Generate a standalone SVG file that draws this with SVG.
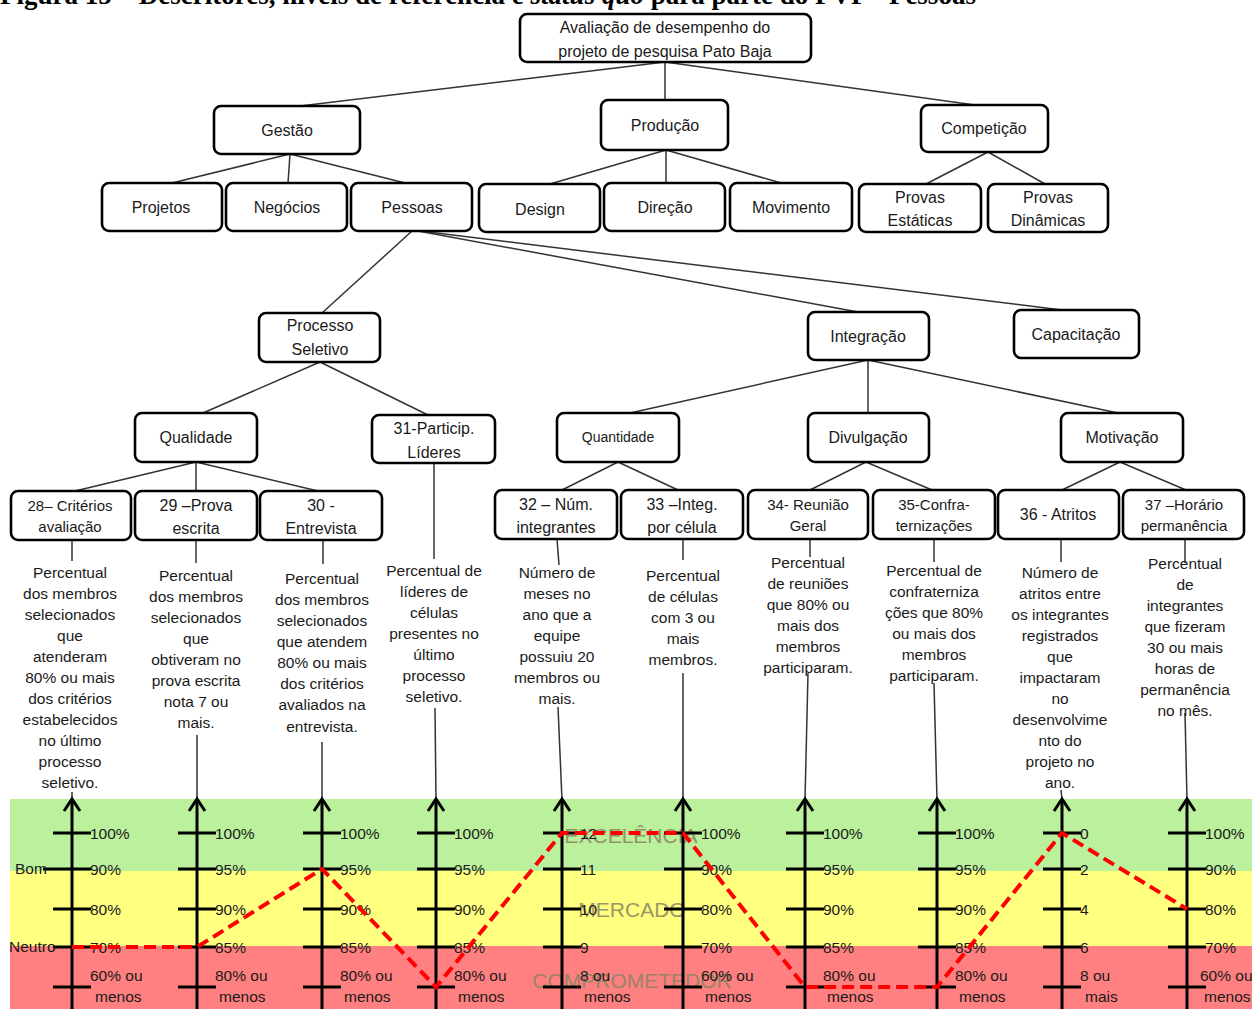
<svg xmlns="http://www.w3.org/2000/svg" width="1252" height="1009" viewBox="0 0 1252 1009">
<style>
.box{fill:#fff;stroke:#000;stroke-width:2.6}
.bt{font-family:"Liberation Sans",Arial,sans-serif;font-size:16px;text-anchor:middle;dominant-baseline:central;fill:#1a1a1a}
.dt{font-family:"Liberation Sans",Arial,sans-serif;font-size:15.5px;text-anchor:middle;dominant-baseline:central;fill:#1a1a1a}
.sl{font-family:"Liberation Sans",Arial,sans-serif;font-size:15.5px;dominant-baseline:central;fill:#1a1a1a}
.bl{font-family:"Liberation Sans",Arial,sans-serif;font-size:21px;text-anchor:middle;dominant-baseline:central;fill:#8a8462;opacity:0.85}
.con{stroke:#333;stroke-width:1.5;fill:none}
.axis{stroke:#000;stroke-width:3;fill:none;marker-end:url(#ah)}
.tick{stroke:#000;stroke-width:3}
.sq{stroke:#f00;stroke-width:4;stroke-dasharray:12 6;fill:none}
</style>
<defs>
<marker id="ah" markerUnits="userSpaceOnUse" markerWidth="20" markerHeight="20" refX="12" refY="10" orient="auto" overflow="visible">
<path d="M0 2 L12 10 L0 18" fill="none" stroke="#000" stroke-width="3"/>
</marker>
</defs>
<rect width="1252" height="1009" fill="#fff"/>
<text x="0" y="4" font-family="'Liberation Serif','Times New Roman',serif" font-weight="bold" font-size="27" fill="#000">Figura 15 – Descritores, níveis de referência e <tspan font-style="italic">status quo</tspan> para parte do PVF - Pessoas</text>

<g id="connectors">
<line class="con" x1="665" y1="62" x2="300" y2="106"/>
<line class="con" x1="665" y1="62" x2="665" y2="100"/>
<line class="con" x1="665" y1="62" x2="975" y2="105"/>
<line class="con" x1="290" y1="154" x2="172" y2="183"/>
<line class="con" x1="290" y1="154" x2="288" y2="183"/>
<line class="con" x1="290" y1="154" x2="405" y2="183"/>
<line class="con" x1="666" y1="150" x2="550" y2="184"/>
<line class="con" x1="666" y1="150" x2="666" y2="183"/>
<line class="con" x1="666" y1="150" x2="781" y2="183"/>
<line class="con" x1="988" y1="152" x2="926" y2="184"/>
<line class="con" x1="988" y1="152" x2="1045" y2="184"/>
<line class="con" x1="412" y1="231" x2="322" y2="313"/>
<line class="con" x1="418" y1="231" x2="858" y2="312"/>
<line class="con" x1="420" y1="231" x2="1062" y2="310"/>
<line class="con" x1="320" y1="362" x2="203" y2="413"/>
<line class="con" x1="320" y1="362" x2="428" y2="415"/>
<line class="con" x1="868" y1="360" x2="630" y2="413"/>
<line class="con" x1="868" y1="360" x2="868" y2="413"/>
<line class="con" x1="868" y1="360" x2="1118" y2="413"/>
<line class="con" x1="196" y1="462" x2="75" y2="491"/>
<line class="con" x1="196" y1="462" x2="196" y2="491"/>
<line class="con" x1="196" y1="462" x2="318" y2="491"/>
<line class="con" x1="618" y1="462" x2="562" y2="490"/>
<line class="con" x1="618" y1="462" x2="678" y2="490"/>
<line class="con" x1="866" y1="462" x2="810" y2="490"/>
<line class="con" x1="866" y1="462" x2="932" y2="490"/>
<line class="con" x1="1120" y1="462" x2="1062" y2="490"/>
<line class="con" x1="1120" y1="462" x2="1186" y2="490"/>
<line class="con" x1="72" y1="540" x2="72" y2="561"/>
<line class="con" x1="72" y1="792" x2="72" y2="800"/>
<line class="con" x1="196" y1="540" x2="196" y2="563"/>
<line class="con" x1="197" y1="735" x2="197" y2="800"/>
<line class="con" x1="323" y1="540" x2="323" y2="564"/>
<line class="con" x1="322" y1="742" x2="322" y2="800"/>
<line class="con" x1="434" y1="463" x2="434" y2="559"/>
<line class="con" x1="435" y1="708" x2="436" y2="800"/>
<line class="con" x1="557" y1="539" x2="559" y2="565"/>
<line class="con" x1="558" y1="707" x2="562" y2="800"/>
<line class="con" x1="683" y1="539" x2="683" y2="560"/>
<line class="con" x1="683" y1="673" x2="683" y2="800"/>
<line class="con" x1="810" y1="539" x2="810" y2="557"/>
<line class="con" x1="808" y1="673" x2="805" y2="800"/>
<line class="con" x1="934" y1="539" x2="934" y2="562"/>
<line class="con" x1="934" y1="683" x2="937" y2="800"/>
<line class="con" x1="1061" y1="539" x2="1061" y2="562"/>
<line class="con" x1="1061" y1="790" x2="1062" y2="800"/>
<line class="con" x1="1185" y1="539" x2="1185" y2="563"/>
<line class="con" x1="1185" y1="713" x2="1187" y2="800"/>
</g>

<g id="root"><rect class="box" x="520" y="14" width="291" height="48" rx="7"/><text class="bt" x="665" y="27">Avaliação de desempenho do</text><text class="bt" x="665" y="51">projeto de pesquisa Pato Baja</text></g>
<g id="gestao"><rect class="box" x="214" y="106" width="146" height="48" rx="7"/><text class="bt" x="287" y="130">Gestão</text></g>
<g id="producao"><rect class="box" x="601" y="100" width="127" height="50" rx="7"/><text class="bt" x="665" y="125">Produção</text></g>
<g id="competicao"><rect class="box" x="921" y="105" width="127" height="47" rx="7"/><text class="bt" x="984" y="128">Competição</text></g>
<g id="projetos"><rect class="box" x="102" y="183" width="120" height="48" rx="7"/><text class="bt" x="161" y="207">Projetos</text></g>
<g id="negocios"><rect class="box" x="226" y="183" width="121" height="48" rx="7"/><text class="bt" x="287" y="207">Negócios</text></g>
<g id="pessoas"><rect class="box" x="351" y="183" width="121" height="48" rx="7"/><text class="bt" x="412" y="207">Pessoas</text></g>
<g id="design"><rect class="box" x="479" y="184" width="121" height="48" rx="7"/><text class="bt" x="540" y="209">Design</text></g>
<g id="direcao"><rect class="box" x="604" y="183" width="121" height="48" rx="7"/><text class="bt" x="665" y="207">Direção</text></g>
<g id="movimento"><rect class="box" x="730" y="183" width="122" height="48" rx="7"/><text class="bt" x="791" y="207">Movimento</text></g>
<g id="provas-estaticas"><rect class="box" x="859" y="184" width="122" height="48" rx="7"/><text class="bt" x="920" y="197">Provas</text><text class="bt" x="920" y="220">Estáticas</text></g>
<g id="provas-dinamicas"><rect class="box" x="988" y="184" width="120" height="48" rx="7"/><text class="bt" x="1048" y="197">Provas</text><text class="bt" x="1048" y="220">Dinâmicas</text></g>
<g id="processo-seletivo"><rect class="box" x="259" y="313" width="121" height="49" rx="7"/><text class="bt" x="320" y="325">Processo</text><text class="bt" x="320" y="349">Seletivo</text></g>
<g id="integracao"><rect class="box" x="808" y="312" width="121" height="48" rx="7"/><text class="bt" x="868" y="336">Integração</text></g>
<g id="capacitacao"><rect class="box" x="1014" y="310" width="125" height="48" rx="7"/><text class="bt" x="1076" y="334">Capacitação</text></g>
<g id="qualidade"><rect class="box" x="135" y="413" width="122" height="49" rx="7"/><text class="bt" x="196" y="437">Qualidade</text></g>
<g id="d31"><rect class="box" x="372" y="415" width="123" height="48" rx="7"/><text class="bt" x="434" y="428">31-Particip.</text><text class="bt" x="434" y="452">Líderes</text></g>
<g id="quantidade"><rect class="box" x="557" y="413" width="122" height="49" rx="7"/><text class="bt" x="618" y="437" style="font-size:14px">Quantidade</text></g>
<g id="divulgacao"><rect class="box" x="808" y="413" width="121" height="49" rx="7"/><text class="bt" x="868" y="437">Divulgação</text></g>
<g id="motivacao"><rect class="box" x="1061" y="413" width="122" height="49" rx="7"/><text class="bt" x="1122" y="437">Motivação</text></g>
<g id="d28"><rect class="box" x="11" y="491" width="120" height="49" rx="7"/><text class="bt" x="70" y="505" style="font-size:15px">28– Critérios</text><text class="bt" x="70" y="526" style="font-size:15px">avaliação</text></g>
<g id="d29"><rect class="box" x="135" y="491" width="122" height="49" rx="7"/><text class="bt" x="196" y="505">29 –Prova</text><text class="bt" x="196" y="528">escrita</text></g>
<g id="d30"><rect class="box" x="260" y="491" width="122" height="49" rx="7"/><text class="bt" x="321" y="505">30 -</text><text class="bt" x="321" y="528">Entrevista</text></g>
<g id="d32"><rect class="box" x="495" y="490" width="122" height="49" rx="7"/><text class="bt" x="556" y="504">32  – Núm.</text><text class="bt" x="556" y="527">integrantes</text></g>
<g id="d33"><rect class="box" x="621" y="490" width="122" height="49" rx="7"/><text class="bt" x="682" y="504">33 –Integ.</text><text class="bt" x="682" y="527">por célula</text></g>
<g id="d34"><rect class="box" x="748" y="490" width="120" height="49" rx="7"/><text class="bt" x="808" y="504" style="font-size:15px">34- Reunião</text><text class="bt" x="808" y="525" style="font-size:15px">Geral</text></g>
<g id="d35"><rect class="box" x="873" y="490" width="122" height="49" rx="7"/><text class="bt" x="934" y="504" style="font-size:15px">35-Confra-</text><text class="bt" x="934" y="525" style="font-size:15px">ternizações</text></g>
<g id="d36"><rect class="box" x="998" y="490" width="121" height="49" rx="7"/><text class="bt" x="1058" y="514">36 - Atritos</text></g>
<g id="d37"><rect class="box" x="1123" y="490" width="121" height="49" rx="7"/><text class="bt" x="1184" y="504" style="font-size:15px">37 –Horário</text><text class="bt" x="1184" y="525" style="font-size:15px">permanência</text></g>

<g id="descritores">
<text class="dt"><tspan x="70" y="572">Percentual</tspan><tspan x="70" y="593">dos membros</tspan><tspan x="70" y="614">selecionados</tspan><tspan x="70" y="635">que</tspan><tspan x="70" y="656">atenderam</tspan><tspan x="70" y="677">80% ou mais</tspan><tspan x="70" y="698">dos critérios</tspan><tspan x="70" y="719">estabelecidos</tspan><tspan x="70" y="740">no último</tspan><tspan x="70" y="761">processo</tspan><tspan x="70" y="782">seletivo.</tspan></text>
<text class="dt"><tspan x="196" y="575">Percentual</tspan><tspan x="196" y="596">dos membros</tspan><tspan x="196" y="617">selecionados</tspan><tspan x="196" y="638">que</tspan><tspan x="196" y="659">obtiveram no</tspan><tspan x="196" y="680">prova escrita</tspan><tspan x="196" y="701">nota 7 ou</tspan><tspan x="196" y="722">mais.</tspan></text>
<text class="dt"><tspan x="322" y="578">Percentual</tspan><tspan x="322" y="599">dos membros</tspan><tspan x="322" y="620">selecionados</tspan><tspan x="322" y="641">que atendem</tspan><tspan x="322" y="662">80% ou mais</tspan><tspan x="322" y="683">dos critérios</tspan><tspan x="322" y="704">avaliados na</tspan><tspan x="322" y="726">entrevista.</tspan></text>
<text class="dt"><tspan x="434" y="570">Percentual de</tspan><tspan x="434" y="591">líderes de</tspan><tspan x="434" y="612">células</tspan><tspan x="434" y="633">presentes no</tspan><tspan x="434" y="654">último</tspan><tspan x="434" y="675">processo</tspan><tspan x="434" y="696">seletivo.</tspan></text>
<text class="dt"><tspan x="557" y="572">Número de</tspan><tspan x="557" y="593">meses no</tspan><tspan x="557" y="614">ano que a</tspan><tspan x="557" y="635">equipe</tspan><tspan x="557" y="656">possuiu 20</tspan><tspan x="557" y="677">membros ou</tspan><tspan x="557" y="698">mais.</tspan></text>
<text class="dt"><tspan x="683" y="575">Percentual</tspan><tspan x="683" y="596">de células</tspan><tspan x="683" y="617">com 3 ou</tspan><tspan x="683" y="638">mais</tspan><tspan x="683" y="659">membros.</tspan></text>
<text class="dt"><tspan x="808" y="562">Percentual</tspan><tspan x="808" y="583">de reuniões</tspan><tspan x="808" y="604">que 80% ou</tspan><tspan x="808" y="625">mais dos</tspan><tspan x="808" y="646">membros</tspan><tspan x="808" y="667">participaram.</tspan></text>
<text class="dt"><tspan x="934" y="570">Percentual de</tspan><tspan x="934" y="591">confraterniza</tspan><tspan x="934" y="612">ções que 80%</tspan><tspan x="934" y="633">ou mais dos</tspan><tspan x="934" y="654">membros</tspan><tspan x="934" y="675">participaram.</tspan></text>
<text class="dt"><tspan x="1060" y="572">Número de</tspan><tspan x="1060" y="593">atritos entre</tspan><tspan x="1060" y="614">os integrantes</tspan><tspan x="1060" y="635">registrados</tspan><tspan x="1060" y="656">que</tspan><tspan x="1060" y="677">impactaram</tspan><tspan x="1060" y="698">no</tspan><tspan x="1060" y="719">desenvolvime</tspan><tspan x="1060" y="740">nto do</tspan><tspan x="1060" y="761">projeto no</tspan><tspan x="1060" y="782">ano.</tspan></text>
<text class="dt"><tspan x="1185" y="563">Percentual</tspan><tspan x="1185" y="584">de</tspan><tspan x="1185" y="605">integrantes</tspan><tspan x="1185" y="626">que fizeram</tspan><tspan x="1185" y="647">30 ou mais</tspan><tspan x="1185" y="668">horas de</tspan><tspan x="1185" y="689">permanência</tspan><tspan x="1185" y="710">no mês.</tspan></text>
</g>

<g id="faixas">
<rect x="10" y="799" width="1242" height="72" fill="#bbf09c"/>
<rect x="10" y="871" width="1242" height="75" fill="#ffff80"/>
<rect x="10" y="946" width="1242" height="63" fill="#ff8080"/>
<text class="bl" x="631" y="835">EXCELÊNCIA</text>
<text class="bl" x="632" y="909">MERCADO</text>
<text class="bl" x="632" y="980">COMPROMETEDOR</text>
</g>

<g id="escalas">
<path class="axis" d="M72 1009V799"/><path class="axis" d="M197 1009V799"/><path class="axis" d="M322 1009V799"/><path class="axis" d="M436 1009V799"/><path class="axis" d="M562 1009V799"/><path class="axis" d="M683 1009V799"/><path class="axis" d="M805 1009V799"/><path class="axis" d="M937 1009V799"/><path class="axis" d="M1062 1009V799"/><path class="axis" d="M1187 1009V799"/>
<path class="tick" d="M53 833H91 M43 869H91 M53 909H91 M53 947H91 M53 987H91
M178 833H216 M178 869H216 M178 909H216 M178 947H216 M178 987H216
M303 833H341 M303 869H341 M303 909H341 M303 947H341 M303 987H341
M417 833H455 M417 869H455 M417 909H455 M417 947H455 M417 987H455
M543 833H581 M543 869H581 M543 909H581 M543 947H581 M543 987H581
M664 833H702 M664 869H702 M664 909H702 M664 947H702 M664 987H702
M786 833H824 M786 869H824 M786 909H824 M786 947H824 M786 987H824
M918 833H956 M918 869H956 M918 909H956 M918 947H956 M918 987H956
M1043 833H1081 M1043 869H1081 M1043 909H1081 M1043 947H1081 M1043 987H1081
M1168 833H1206 M1168 869H1206 M1168 909H1206 M1168 947H1206 M1168 987H1206"/>
<text class="sl" x="15" y="868">Bom</text>
<text class="sl" x="9" y="946">Neutro</text>
<text class="sl"><tspan x="90" y="833">100%</tspan><tspan x="90" y="869">90%</tspan><tspan x="90" y="909">80%</tspan><tspan x="90" y="947">70%</tspan><tspan x="90" y="975">60% ou</tspan><tspan x="95" y="996">menos</tspan></text>
<text class="sl"><tspan x="215" y="833">100%</tspan><tspan x="215" y="869">95%</tspan><tspan x="215" y="909">90%</tspan><tspan x="215" y="947">85%</tspan><tspan x="215" y="975">80% ou</tspan><tspan x="219" y="996">menos</tspan></text>
<text class="sl"><tspan x="340" y="833">100%</tspan><tspan x="340" y="869">95%</tspan><tspan x="340" y="909">90%</tspan><tspan x="340" y="947">85%</tspan><tspan x="340" y="975">80% ou</tspan><tspan x="344" y="996">menos</tspan></text>
<text class="sl"><tspan x="454" y="833">100%</tspan><tspan x="454" y="869">95%</tspan><tspan x="454" y="909">90%</tspan><tspan x="454" y="947">85%</tspan><tspan x="454" y="975">80% ou</tspan><tspan x="458" y="996">menos</tspan></text>
<text class="sl"><tspan x="580" y="833">12</tspan><tspan x="580" y="869">11</tspan><tspan x="580" y="909">10</tspan><tspan x="580" y="947">9</tspan><tspan x="580" y="975">8 ou</tspan><tspan x="584" y="996">menos</tspan></text>
<text class="sl"><tspan x="701" y="833">100%</tspan><tspan x="701" y="869">90%</tspan><tspan x="701" y="909">80%</tspan><tspan x="701" y="947">70%</tspan><tspan x="701" y="975">60% ou</tspan><tspan x="705" y="996">menos</tspan></text>
<text class="sl"><tspan x="823" y="833">100%</tspan><tspan x="823" y="869">95%</tspan><tspan x="823" y="909">90%</tspan><tspan x="823" y="947">85%</tspan><tspan x="823" y="975">80% ou</tspan><tspan x="827" y="996">menos</tspan></text>
<text class="sl"><tspan x="955" y="833">100%</tspan><tspan x="955" y="869">95%</tspan><tspan x="955" y="909">90%</tspan><tspan x="955" y="947">85%</tspan><tspan x="955" y="975">80% ou</tspan><tspan x="959" y="996">menos</tspan></text>
<text class="sl"><tspan x="1080" y="833">0</tspan><tspan x="1080" y="869">2</tspan><tspan x="1080" y="909">4</tspan><tspan x="1080" y="947">6</tspan><tspan x="1080" y="975">8 ou</tspan><tspan x="1085" y="996">mais</tspan></text>
<text class="sl"><tspan x="1205" y="833">100%</tspan><tspan x="1205" y="869">90%</tspan><tspan x="1205" y="909">80%</tspan><tspan x="1205" y="947">70%</tspan><tspan x="1200" y="975">60% ou</tspan><tspan x="1204" y="996">menos</tspan></text>
</g>

<g id="status-quo">
<polyline class="sq" points="72,947 197,947 322,869 436,987 562,833 683,833 805,987 937,987 1062,833 1187,909"/>
</g>
</svg>
